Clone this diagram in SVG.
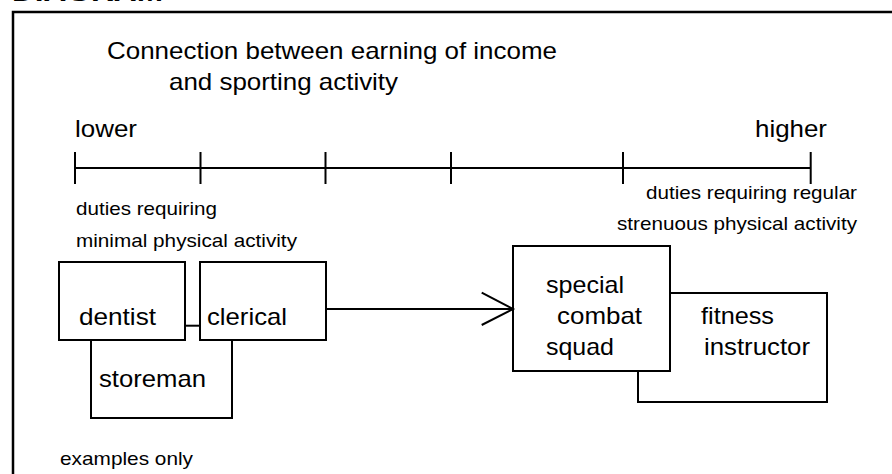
<svg xmlns="http://www.w3.org/2000/svg" width="892" height="474" viewBox="0 0 892 474">
<defs>
<style>
text{font-family:"Liberation Sans",Arial,sans-serif;fill:#000}
.big{font-size:24px}
.sm{font-size:19px}
.ln{fill:none;stroke:#000;stroke-width:2}
.box{fill:#fff;stroke:#000;stroke-width:2}
</style>
</defs>
<rect width="892" height="474" fill="#fff"/>
<text x="12" y="1" style="font-size:28px;font-weight:bold" textLength="151" lengthAdjust="spacingAndGlyphs">DIAGRAM</text>
<path d="M13,474 V12 H892" fill="none" stroke="#000" stroke-width="2.5"/>
<g id="title">
<text class="big" x="107" y="59" textLength="450" lengthAdjust="spacingAndGlyphs">Connection between earning of income</text>
<text class="big" x="169" y="90" textLength="229" lengthAdjust="spacingAndGlyphs">and sporting activity</text>
</g>
<g id="scale">
<text class="big" x="75" y="137" textLength="62" lengthAdjust="spacingAndGlyphs">lower</text>
<text class="big" x="755" y="137" textLength="72" lengthAdjust="spacingAndGlyphs">higher</text>
<path class="ln" d="M75,168 H811 M75,152 V184 M200.5,152 V184 M325.5,152 V184 M451,152 V184 M623,152 V184 M810.7,152 V184"/>
<text class="sm" x="76" y="215" textLength="141" lengthAdjust="spacingAndGlyphs">duties requiring</text>
<text class="sm" x="76" y="247" textLength="221" lengthAdjust="spacingAndGlyphs">minimal physical activity</text>
<text class="sm" x="646" y="199" textLength="211" lengthAdjust="spacingAndGlyphs">duties requiring regular</text>
<text class="sm" x="617" y="230" textLength="240" lengthAdjust="spacingAndGlyphs">strenuous physical activity</text>
</g>
<g id="storeman">
<path class="ln" d="M91,340 V418 H232 V340"/>
<text class="big" x="99" y="387" textLength="107" lengthAdjust="spacingAndGlyphs">storeman</text>
</g>
<g id="dentist">
<rect class="box" x="59" y="262" width="126" height="78"/>
<text class="big" x="79" y="325" textLength="77" lengthAdjust="spacingAndGlyphs">dentist</text>
</g>
<g id="clerical">
<rect class="box" x="200" y="262" width="126" height="78"/>
<text class="big" x="207" y="325" textLength="80" lengthAdjust="spacingAndGlyphs">clerical</text>
</g>
<g id="fitness">
<rect class="box" x="638" y="293" width="189" height="109"/>
<text class="big" x="701" y="324" textLength="73" lengthAdjust="spacingAndGlyphs">fitness</text>
<text class="big" x="704" y="355" textLength="106" lengthAdjust="spacingAndGlyphs">instructor</text>
</g>
<g id="special">
<rect class="box" x="513" y="246" width="157" height="125"/>
<text class="big" x="546" y="293" textLength="78" lengthAdjust="spacingAndGlyphs">special</text>
<text class="big" x="557" y="324" textLength="85" lengthAdjust="spacingAndGlyphs">combat</text>
<text class="big" x="546" y="355" textLength="68" lengthAdjust="spacingAndGlyphs">squad</text>
</g>
<g id="connectors">
<path class="ln" d="M185,325.7 H200"/>
<path class="ln" d="M326,309 H512"/>
<path class="ln" d="M481.7,292.7 L513,309 L481.7,325"/>
</g>
<text class="sm" x="60" y="465" textLength="133" lengthAdjust="spacingAndGlyphs">examples only</text>
</svg>
